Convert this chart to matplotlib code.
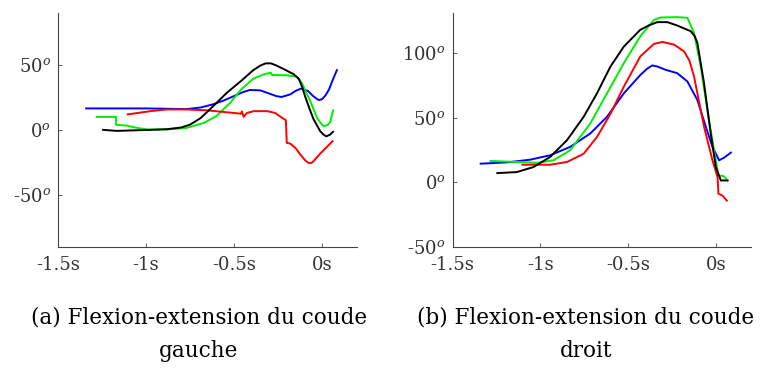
import matplotlib
matplotlib.use("Agg")
import matplotlib.pyplot as plt

plt.rcParams['font.family'] = ['DejaVu Serif']
plt.rcParams['mathtext.fontset'] = 'dejavuserif'

# ---------------- data ----------------
xticks = [-1.5, -1.0, -0.5, 0.0]
xticklabels = ['-1.5s', '-1s', '-0.5s', '0s']

left_yticks = [-50, 0, 50]
left_yticklabels = ['-50$^{o}$', '0$^{o}$', '50$^{o}$']
right_yticks = [-50, 0, 50, 100]
right_yticklabels = ['-50$^{o}$', '0$^{o}$', '50$^{o}$', '100$^{o}$']

# Left elbow
left_blue_t = [-1.34, -1.0, -0.77, -0.69, -0.62, -0.56, -0.5, -0.45, -0.41, -0.35, -0.3, -0.26, -0.23, -0.18, -0.15, -0.12, -0.08, -0.05, -0.02, 0.0, 0.02, 0.04, 0.06, 0.085]
left_blue_v = [16.5, 16.5, 16, 17.2, 19.6, 22.5, 26, 29, 30.7, 30.4, 28, 26, 25.3, 27.3, 30, 31.7, 30, 26, 23, 23.5, 26.5, 31, 38, 46]

left_black_t = [-1.244, -1.165, -0.975, -0.88, -0.8, -0.75, -0.69, -0.62, -0.54, -0.46, -0.39, -0.35, -0.32, -0.29, -0.26, -0.22, -0.16, -0.13, -0.11, -0.095, -0.07, -0.047, -0.01, 0.01, 0.025, 0.047, 0.063]
left_black_v = [0, -0.8, 0, 0.5, 1.8, 4, 9, 18, 28.6, 37.6, 46, 49.5, 51.2, 51.2, 49.6, 47, 42.8, 39, 32, 25.5, 16, 8, -1, -3.8, -5, -3.6, -1.5]

left_green_t = [-1.28, -1.17, -1.17, -1.11, -1.05, -0.99, -0.88, -0.77, -0.67, -0.6, -0.52, -0.46, -0.39, -0.33, -0.29, -0.284, -0.2, -0.142, -0.114, -0.066, -0.028, 0.0, 0.013, 0.035, 0.047, 0.063]
left_green_v = [10, 10, 3.9, 3.3, 1.5, 0.3, 0.3, 1.5, 5.4, 10.6, 21, 31, 39.4, 42.8, 44, 42.3, 42, 41, 36, 22, 9.3, 4, 2.8, 4, 6, 15]

left_red_t = [-1.104, -0.975, -0.88, -0.77, -0.65, -0.5, -0.46, -0.455, -0.445, -0.426, -0.388, -0.31, -0.265, -0.227, -0.205, -0.2, -0.18, -0.15, -0.123, -0.095, -0.076, -0.06, -0.047, -0.01, 0.06]
left_red_v = [11.9, 14.4, 15.7, 15.7, 15, 13, 12.4, 14.2, 10, 13, 14.4, 14.4, 13, 9.3, 7.5, -10, -10.6, -14, -19, -23.5, -25.5, -25.5, -24, -18.3, -8.8]

# Right elbow
right_blue_t = [-1.34, -1.19, -1.058, -0.944, -0.83, -0.715, -0.62, -0.524, -0.43, -0.39, -0.362, -0.334, -0.286, -0.22, -0.162, -0.105, -0.057, -0.019, 0.019, 0.048, 0.086]
right_blue_v = [14.3, 15.3, 17.4, 20.8, 27.3, 37.7, 50.6, 68.8, 83, 88, 90.4, 89.6, 87, 84.4, 78, 63.6, 42.9, 27.3, 16.9, 19, 22.9]

right_green_t = [-1.283, -1.134, -1.02, -0.925, -0.83, -0.715, -0.62, -0.524, -0.43, -0.353, -0.315, -0.22, -0.162, -0.124, -0.086, -0.048, -0.01, 0.015, 0.044, 0.067]
right_green_v = [16.4, 15.6, 15, 16.9, 24.7, 45.5, 68.8, 92.2, 113, 125.5, 127.5, 127.8, 127.3, 115.6, 89.6, 55.8, 24.7, 5.2, 4.7, 1.3]

right_black_t = [-1.245, -1.134, -1.039, -0.944, -0.848, -0.753, -0.677, -0.6, -0.524, -0.43, -0.38, -0.334, -0.276, -0.22, -0.143, -0.12, -0.105, -0.067, -0.029, 0.0, 0.029, 0.067]
right_black_v = [7, 7.8, 11.7, 19.5, 32.5, 50.6, 68.8, 89.6, 105, 118, 121.5, 123.9, 123.9, 121.3, 116.9, 113, 107.8, 76.6, 37.7, 11.7, 1.3, 1.3]

right_red_t = [-1.102, -0.944, -0.848, -0.753, -0.677, -0.6, -0.524, -0.43, -0.353, -0.305, -0.238, -0.181, -0.15, -0.124, -0.067, -0.019, 0.01, 0.015, 0.038, 0.063]
right_red_v = [13.5, 13.5, 15.6, 22, 35, 53, 74, 97.4, 107, 108.6, 106.5, 101.3, 94, 81.8, 42.9, 16.9, 3.9, -9, -10.4, -14.3]

captions = ['(a) Flexion-extension du coude\ngauche',
            '(b) Flexion-extension du coude\ndroit']

# ---------------- plot ----------------
fig = plt.figure(figsize=(7.83, 3.71), dpi=100)
ax1 = fig.add_axes([0.0741, 0.335, 0.382, 0.630])
ax2 = fig.add_axes([0.578, 0.335, 0.381, 0.630])

BLUE, GREEN, RED, BLACK = '#0000ff', '#00ee00', '#ff0000', '#000000'
lw = 1.4

for ax, series, yt, ytl, ylim in [
    (ax1, [(left_blue_t, left_blue_v, BLUE), (left_green_t, left_green_v, GREEN),
           (left_red_t, left_red_v, RED), (left_black_t, left_black_v, BLACK)],
     left_yticks, left_yticklabels, (-90, 90)),
    (ax2, [(right_blue_t, right_blue_v, BLUE), (right_green_t, right_green_v, GREEN),
           (right_red_t, right_red_v, RED), (right_black_t, right_black_v, BLACK)],
     right_yticks, right_yticklabels, (-50, 131)),
]:
    for t, v, c in series:
        ax.plot(t, v, color=c, lw=lw)
    ax.set_xlim(-1.5, 0.2)
    ax.set_ylim(*ylim)
    ax.set_xticks(xticks)
    ax.set_xticklabels(xticklabels)
    ax.set_yticks(yt)
    ax.set_yticklabels(ytl)
    for s in ['top', 'right']:
        ax.spines[s].set_visible(False)
    for s in ['left', 'bottom']:
        ax.spines[s].set_color('#444444')
        ax.spines[s].set_linewidth(0.8)
    ax.tick_params(direction='in', length=3, width=0.6, colors='#444444',
                   labelcolor='#333333', labelsize=13)
    ax.tick_params(axis='x', pad=7)
    ax.tick_params(axis='y', pad=5)

fig.text(0.254, 0.145, captions[0].split('\n')[0], ha='center', va='center', fontsize=15.5)
fig.text(0.254, 0.055, captions[0].split('\n')[1], ha='center', va='center', fontsize=15.5)
fig.text(0.748, 0.145, captions[1].split('\n')[0], ha='center', va='center', fontsize=15.5)
fig.text(0.748, 0.055, captions[1].split('\n')[1], ha='center', va='center', fontsize=15.5)

fig.savefig('out.png', dpi=100)
